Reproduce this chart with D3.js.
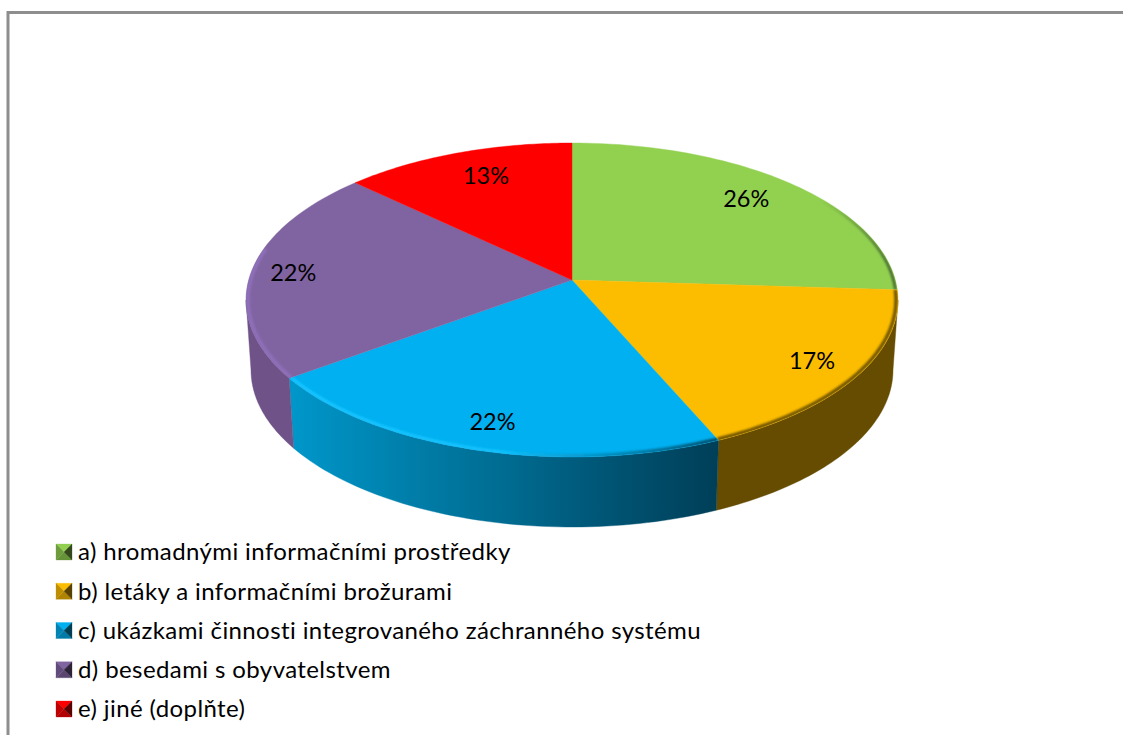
<!DOCTYPE html>
<html><head><meta charset="utf-8">
<script src="https://cdn.jsdelivr.net/npm/d3@7"></script>
<style>html,body{margin:0;padding:0;background:#fff}svg{display:block}text{font-family:Lato,"Noto Sans",sans-serif;fill:#000}</style>
</head><body><div id="c"></div>
<script>
const categories = ["a) hromadnými informačními prostředky","b) letáky a informačními brožurami","c) ukázkami činnosti integrovaného záchranného systému","d) besedami s obyvatelstvem","e) jiné (doplňte)"];
const values = [26, 17.45, 21.55, 22, 13];
const colors = ["#92d050","#fcbd00","#00b0f0","#8064a2","#ff0000"];
const sideColors = ["#4f7a28","#654c00","#0086b4","#6f5287","#a00000"];
const rimColors = ["#3f6030","#6e5200","#20c8ff","#9070bc","#ff0000"];

const W=1123,H=735;
const svg=d3.select("#c").append("svg").attr("width",W).attr("height",H);
const defs=svg.append("defs");
defs.append("filter").attr("id","soft").attr("filterUnits","userSpaceOnUse").attr("x",0).attr("y",0).attr("width",W).attr("height",H)
  .append("feGaussianBlur").attr("stdDeviation",1.3);
const bg=defs.append("linearGradient").attr("id","blueSide").attr("gradientUnits","userSpaceOnUse")
  .attr("x1",290).attr("x2",716).attr("y1",0).attr("y2",0);
[[0,"#0097ca"],[.25,"#0081ad"],[.5,"#006c92"],[.75,"#005474"],[1,"#003f58"]].forEach(s=>bg.append("stop").attr("offset",s[0]).attr("stop-color",s[1]));
const br=defs.append("linearGradient").attr("id","blueRim").attr("gradientUnits","userSpaceOnUse")
  .attr("x1",290).attr("x2",716).attr("y1",0).attr("y2",0);
[[0,"#14c4ff",1],[.5,"#14c4ff",.9],[.68,"#0a90c0",.7],[1,"#003f58",.9]].forEach(s=>br.append("stop").attr("offset",s[0]).attr("stop-color",s[1]).attr("stop-opacity",s[2]));
const gr=defs.append("linearGradient").attr("id","greenRim").attr("gradientUnits","userSpaceOnUse")
  .attr("x1",820).attr("x2",890).attr("y1",0).attr("y2",0);
[[0,0],[.5,.45],[1,1]].forEach(s=>gr.append("stop").attr("offset",s[0]).attr("stop-color",rimColors[0]).attr("stop-opacity",s[1]));

// outer frame
svg.append("path").attr("d",`M8,${H} V12.5 H${W}`).attr("fill","none").attr("stroke","#8e8e8e").attr("stroke-width",3);

// perspective disc: circle angle -> screen point
const top_={cx:572,cy:300,rx:326,ry:157}, bottom_={cx:572,cy:370,rx:321,ry:157};
const persp=20/157;
function project(e,a,r=1){
  const u=r*Math.sin(a), v=-r*Math.cos(a), w=1-persp*v;
  return [e.cx+e.rx*Math.sqrt(1-persp*persp)*u/w, e.cy+e.ry*(v-persp)/w];
}
const arcs=d3.pie().sort(null).value(d=>d)(values);
const sample=(a,b)=>d3.range(0,61).map(i=>d3.interpolateNumber(a,b)(i/60));
const line=d3.line();
// the wall is only visible between the two silhouette angles of the disc
const frontA=Math.PI-Math.acos(persp), frontB=Math.PI+Math.acos(persp);

// side walls
const sideG=svg.append("g");
arcs.forEach((d,i)=>{
  const a0=Math.max(d.startAngle,frontA), a1=Math.min(d.endAngle,frontB);
  if(a1<=a0) return;
  const ang=sample(a0,a1);
  const pts=ang.map(a=>project(top_,a)).concat(ang.slice().reverse().map(a=>project(bottom_,a)));
  const f=i===2?"url(#blueSide)":sideColors[i];
  sideG.append("path").attr("d",line(pts)+"Z").attr("fill",f).attr("stroke",f).attr("stroke-width",.4);
});

// top faces
const faceG=svg.append("g");
arcs.forEach((d,i)=>{
  const ang=sample(d.startAngle,d.endAngle);
  const pts=[project(top_,0,0)].concat(ang.map(a=>project(top_,a)));
  defs.append("clipPath").attr("id","clipFace"+i).append("path").attr("d",line(pts)+"Z");
  faceG.append("path").attr("d",line(pts)+"Z").attr("fill",colors[i]).attr("stroke",colors[i]).attr("stroke-width",.4);
});
// bevel highlight/shadow along the visible part of each rim
const rad=Math.PI/180;
const rimFrom=[50,0,0,0,360], rimTo=[360,360,360,282,360];
const rimStroke=i=>i===2?"url(#blueRim)":i===0?"url(#greenRim)":rimColors[i];
arcs.forEach((d,i)=>{
  const a0=Math.max(d.startAngle,rimFrom[i]*rad), a1=Math.min(d.endAngle,rimTo[i]*rad);
  if(a1<=a0) return;
  const rim=sample(a0,a1).map(a=>project(top_,a,0.994));
  svg.append("g").attr("clip-path",`url(#clipFace${i})`).append("path").attr("d",line(rim)).attr("fill","none")
    .attr("stroke",rimStroke(i)).attr("stroke-width",i===0?2.5:3.5).attr("filter","url(#soft)");
});

// percentage labels
const labelRadius=[.8,.85,.85,.87,.8], labelDx=[-2,0,1,0,8], labelDy=[-3,0,0,0,-1];
const total=d3.sum(values);
svg.append("g").selectAll("text").data(arcs).join("text")
  .attr("x",(d,i)=>project(top_,(d.startAngle+d.endAngle)/2,labelRadius[i])[0]+labelDx[i])
  .attr("y",(d,i)=>project(top_,(d.startAngle+d.endAngle)/2,labelRadius[i])[1]+labelDy[i])
  .attr("text-anchor","middle").attr("dominant-baseline","central")
  .attr("font-size",23.5).text(d=>Math.round(d.value/total*100)+"%");

// legend
const y=d3.scalePoint().domain(categories).range([552,709]);
const s=8;
const shade=(c,k)=>k>0?d3.interpolateRgb(c,"#fff")(k):d3.interpolateRgb(c,"#000")(-k);
const leg=svg.append("g").selectAll("g").data(categories).join("g")
  .attr("transform",d=>`translate(64,${y(d)})`);
leg.each(function(d,i){
  const g=d3.select(this), c=colors[i], m=[0,0];
  const tri=(a,b,f)=>g.append("path").attr("d",line([a,b,m])+"Z").attr("fill",f).attr("stroke",f).attr("stroke-width",.3);
  tri([-s,-s],[s,-s],c);
  tri([-s,s],[s,s],shade(c,-.3));
  tri([-s,-s],[-s,s],shade(c,-.25));
  tri([s,-s],[s,s],shade(c,-.65));
});
leg.append("text").attr("x",14).attr("dy","0.35em").attr("font-size",24).attr("letter-spacing",.4).text(d=>d);
</script></body></html>
